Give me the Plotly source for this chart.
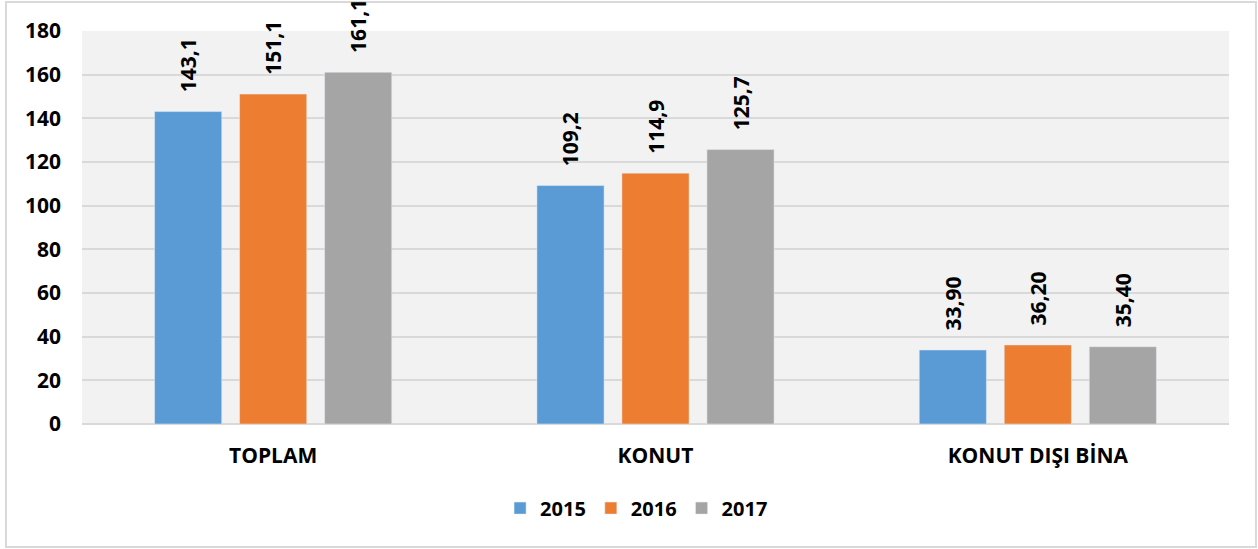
import plotly.graph_objects as go

categories = ["TOPLAM", "KONUT", "KONUT DIŞI BİNA"]
years = ["2015", "2016", "2017"]
v2015 = [143.1, 109.2, 33.9]
v2016 = [151.1, 114.9, 36.2]
v2017 = [161.1, 125.7, 35.4]
labels2015 = ["143,1", "109,2", "33,90"]
labels2016 = ["151,1", "114,9", "36,20"]
labels2017 = ["161,1", "125,7", "35,40"]
colors = ["#5b9bd5", "#ed7d31", "#a5a5a5"]
yticks = [0, 20, 40, 60, 80, 100, 120, 140, 160, 180]

FONT = "Open Sans"
FS = 21
PAD = "\u00a0\u00a0\u00a0"

fig = go.Figure()
for name, vals, labs, col in zip(years, [v2015, v2016, v2017],
                                 [labels2015, labels2016, labels2017], colors):
    fig.add_trace(go.Bar(
        x=categories, y=vals, name=name, marker_color=col,
        text=[PAD + t for t in labs], textposition="outside", textangle=-90,
        textfont=dict(family=FONT, size=FS, color="black", weight="bold"),
        cliponaxis=False,
    ))

fig.update_layout(
    width=1258, height=549,
    margin=dict(l=82, r=29, t=31, b=125),
    paper_bgcolor="white", plot_bgcolor="#f2f2f2",
    barmode="group", bargap=0.333, bargroupgap=0.21,
    font=dict(family=FONT, size=FS, color="black"),
    uniformtext=dict(minsize=FS, mode="show"),
    legend=dict(orientation="h", x=0.4835, xanchor="center", y=-0.214, yanchor="middle",
                font=dict(family=FONT, size=20, color="black", weight="bold"),
                itemwidth=30, traceorder="normal"),
    showlegend=True,
    shapes=[dict(type="rect", xref="paper", yref="paper",
                 x0=-0.0663, x1=1.0235, y0=-0.313, y1=1.0738,
                 line=dict(color="#d9d9d9", width=2), fillcolor="rgba(0,0,0,0)", layer="below")],
)
fig.update_xaxes(showgrid=False, showline=False, ticks="", ticklabelstandoff=17,
                 tickfont=dict(family=FONT, size=FS, color="black", weight="bold"))
fig.update_yaxes(range=[0, 180], tickvals=yticks, showgrid=True, gridcolor="#d9d9d9", gridwidth=2,
                 zeroline=True, zerolinecolor="#d9d9d9", zerolinewidth=2,
                 ticks="", ticklabelstandoff=20,
                 tickfont=dict(family=FONT, size=FS, color="black", weight="bold"))

fig.write_html("out.html", config={"displayModeBar": False},
               post_script="document.body.style.margin='0';")
